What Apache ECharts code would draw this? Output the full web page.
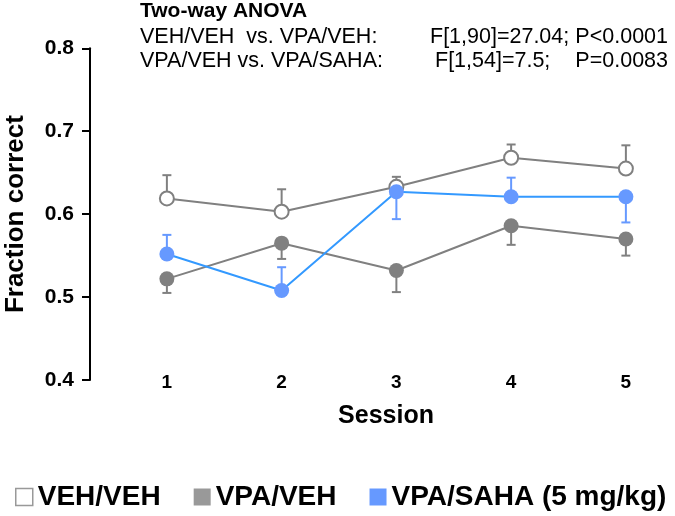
<!DOCTYPE html>
<html>
<head>
<meta charset="utf-8">
<script src="https://cdn.jsdelivr.net/npm/echarts@6/dist/echarts.min.js"></script>
<style>html,body{margin:0;padding:0;background:#fff}#c{width:675px;height:516px}</style>
</head>
<body>
<div id="c"></div>
<script>
var sessions = [1, 2, 3, 4, 5];
var yTicks = [0.4, 0.5, 0.6, 0.7, 0.8];
var seriesNames = ['VEH/VEH', 'VPA/VEH', 'VPA/SAHA (5 mg/kg)'];
var vehVeh = [0.619, 0.603, 0.633, 0.668, 0.655];
var vehVehSem = [0.028, 0.027, 0.012, 0.016, 0.028];
var vehVehDir = [1, 1, 1, 1, 1];
var vpaVeh = [0.522, 0.565, 0.532, 0.586, 0.570];
var vpaVehSem = [0.017, 0.019, 0.026, 0.023, 0.020];
var vpaVehDir = [-1, -1, -1, -1, -1];
var vpaSaha = [0.552, 0.508, 0.627, 0.621, 0.621];
var vpaSahaSem = [0.023, 0.028, 0.033, 0.023, 0.031];
var vpaSahaDir = [1, 1, -1, 1, -1];
var anovaTitle = 'Two-way ANOVA';
var anovaRows = [
  ['VEH/VEH  vs. VPA/VEH:', 'F[1,90]=27.04;', 'P<0.0001'],
  ['VPA/VEH vs. VPA/SAHA:', 'F[1,54]=7.5;', 'P=0.0083']
];

var GRAY = '#808080', BLUE_LINE = '#3399ff', BLUE = '#6699ff';
var FONT = 'Liberation Sans, Arial, sans-serif';

function errData(mean, sem, dir) {
  return sessions.map(function (s, i) { return [s, mean[i], mean[i] + dir[i] * sem[i]]; });
}
function errSeries(mean, sem, dir, color) {
  return {
    type: 'custom', silent: true, z: 1,
    data: errData(mean, sem, dir),
    encode: { x: 0, y: [1, 2] },
    renderItem: function (params, api) {
      var p0 = api.coord([api.value(0), api.value(1)]);
      var p1 = api.coord([api.value(0), api.value(2)]);
      var hw = 4.5;
      return {
        type: 'group',
        children: [
          { type: 'line', shape: { x1: p0[0], y1: p0[1], x2: p1[0], y2: p1[1] }, style: { stroke: color, lineWidth: 2 } },
          { type: 'line', shape: { x1: p1[0] - hw, y1: p1[1], x2: p1[0] + hw, y2: p1[1] }, style: { stroke: color, lineWidth: 2 } }
        ]
      };
    }
  };
}
function pts(arr) { return sessions.map(function (s, i) { return [s, arr[i]]; }); }
function txt(t, pos, size, bold) {
  var o = { text: t, padding: 0, top: pos.top, textStyle: { fontFamily: FONT, fontSize: size, fontWeight: bold ? 'bold' : 'normal', color: '#000' } };
  if (pos.left !== undefined) o.left = pos.left;
  if (pos.right !== undefined) o.right = pos.right;
  return o;
}

var chart = echarts.init(document.getElementById('c'), null, { renderer: 'canvas' });
chart.setOption({
  animation: false,
  textStyle: { fontFamily: FONT },
  title: [
    txt(anovaTitle, { left: 140, top: 1 }, 21, true),
    txt(anovaRows[0][0], { left: 140, top: 26 }, 21.5, false),
    txt(anovaRows[1][0], { left: 140, top: 50 }, 21.5, false),
    txt(anovaRows[0][1], { left: 430, top: 26 }, 21.5, false),
    txt(anovaRows[0][2], { right: 7, top: 26 }, 21.5, false),
    txt(anovaRows[1][1], { left: 435, top: 50 }, 21.5, false),
    txt(anovaRows[1][2], { right: 7, top: 50 }, 21.5, false),
    { text: 'Session', left: 386, top: 404, textAlign: 'center', padding: 0,
      textStyle: { fontFamily: FONT, fontSize: 25, fontWeight: 'bold', color: '#000' } }
  ],
  legend: {
    bottom: 0, left: 10,
    itemWidth: 17, itemHeight: 17, itemGap: 33,
    textStyle: { fontFamily: FONT, fontSize: 28, fontWeight: 'bold', color: '#000' },
    data: [
      { name: seriesNames[0], icon: 'rect', itemStyle: { color: '#fff', borderColor: '#999', borderWidth: 1.5 } },
      { name: seriesNames[1], icon: 'rect', itemStyle: { color: '#999', borderWidth: 0 } },
      { name: seriesNames[2], icon: 'rect', itemStyle: { color: BLUE, borderWidth: 0 } }
    ]
  },
  grid: { left: 90, right: 11.25, top: 48.3, bottom: 136, containLabel: false, outerBoundsMode: 'none' },
  xAxis: {
    type: 'value', min: 0.33, max: 5.33,
    axisLine: { show: false }, axisTick: { show: false }, splitLine: { show: false },
    axisLabel: {
      margin: 3, verticalAlign: 'middle', fontFamily: FONT, fontSize: 19, fontWeight: 'bold', color: '#000',
      formatter: function (v) { return sessions.indexOf(v) >= 0 ? String(v) : ''; }
    }
  },
  yAxis: {
    type: 'value', min: yTicks[0], max: yTicks[yTicks.length - 1], interval: 0.1,
    name: 'Fraction correct', nameLocation: 'middle', nameGap: 61,
    nameTextStyle: { fontFamily: FONT, fontSize: 26, fontWeight: 'bold', color: '#000' },
    axisLine: { show: true, lineStyle: { color: '#000', width: 2 } },
    axisTick: { show: true, length: 8, lineStyle: { color: '#000', width: 2 } },
    splitLine: { show: false },
    axisLabel: { margin: 16, fontFamily: FONT, fontSize: 21, fontWeight: 'bold', color: '#000',
      formatter: function (v) { return v.toFixed(1); } }
  },
  series: [
    errSeries(vehVeh, vehVehSem, vehVehDir, GRAY),
    errSeries(vpaVeh, vpaVehSem, vpaVehDir, GRAY),
    errSeries(vpaSaha, vpaSahaSem, vpaSahaDir, BLUE),
    { name: seriesNames[0], type: 'line', z: 3, data: pts(vehVeh), symbol: 'circle', symbolSize: 14,
      lineStyle: { color: GRAY, width: 2 }, itemStyle: { color: '#fff', borderColor: GRAY, borderWidth: 2 } },
    { name: seriesNames[1], type: 'line', z: 3, data: pts(vpaVeh), symbol: 'circle', symbolSize: 15,
      lineStyle: { color: GRAY, width: 2 }, itemStyle: { color: GRAY, borderWidth: 0 } },
    { name: seriesNames[2], type: 'line', z: 4, data: pts(vpaSaha), symbol: 'circle', symbolSize: 15,
      lineStyle: { color: BLUE_LINE, width: 2 }, itemStyle: { color: BLUE, borderWidth: 0 } }
  ]
});
</script>
</body>
</html>
